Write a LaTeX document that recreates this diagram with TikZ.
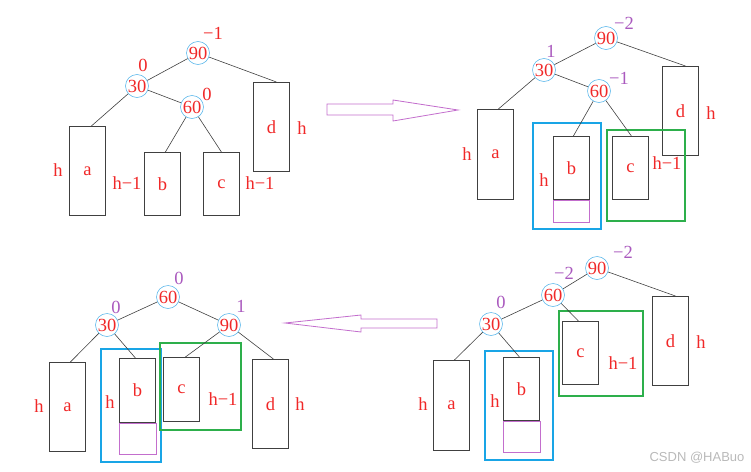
\documentclass[tikz,border=0pt]{standalone}
\usepackage{fontspec}
\setmainfont{Liberation Serif}
\newfontfamily\markfont{Liberation Sans}
\usetikzlibrary{positioning, calc}
\definecolor{lblred}{RGB}{240,40,40}
\definecolor{bfpurple}{RGB}{170,90,190}
\definecolor{ringblue}{RGB}{95,185,235}
\definecolor{hlblue}{RGB}{25,165,230}
\definecolor{hlgreen}{RGB}{45,175,75}
\definecolor{arrowpurple}{RGB}{195,110,205}
\tikzset{
  key/.style={circle, draw=ringblue, line width=0.6pt, inner sep=0pt, minimum size=23pt, text=lblred},
  sub/.style={draw=black!75, line width=0.8pt, minimum width=36pt, anchor=north west, text=lblred},
  lbl/.style={text=lblred, inner sep=0pt},
  bf/.style={text=bfpurple, inner sep=0pt},
  ghost/.style={draw=arrowpurple, line width=0.6pt},
  hlb/.style={draw=hlblue, line width=1.8pt},
  hlg/.style={draw=hlgreen, line width=1.8pt},
  link/.style={draw=black!75, line width=0.6pt},
  bigarrow/.style={draw=arrowpurple, line width=0.8pt}
}

\begin{document}
\begin{tikzpicture}[x=1pt, y=-1pt, font=\fontsize{18.5}{18.5}\selectfont]
  \useasboundingbox (0,0) rectangle (751,471);

  % top left: before insertion
  \node[key] (K90A) at (198,53) {90};
  \node[key] (K30A) at (137,86) {30};
  \node[key] (K60A) at (192,107) {60};
  \node[bf, text=lblred] at (213,33) {−1};
  \node[bf, text=lblred] at (143,65) {0};
  \node[bf, text=lblred] at (207,94) {0};
  \node[sub, minimum height=89pt] (SaA) at (69,126) {a};
  \node[sub, minimum height=63pt] (SbA) at (144,152) {b};
  \node[sub, minimum height=63pt] (ScA) at (203,152) {c};
  \node[sub, minimum height=89pt] (SdA) at (253,82) {d};
  \node[lbl] at (58,170) {h};
  \node[lbl] at (127,183) {h−1};
  \node[lbl] at (260,183) {h−1};
  \node[lbl] at (302,128) {h};
  \draw[link] (K90A) -- (K30A);
  \draw[link] (K90A) -- ($(SdA.north)+(5,0)$);
  \draw[link] (K30A) -- ($(SaA.north)+(4,0)$);
  \draw[link] (K30A) -- (K60A);
  \draw[link] (K60A) -- ($(SbA.north)+(3,0)$);
  \draw[link] (K60A) -- (ScA.north);

  % top right: after insertion into b
  \node[key] (K90B) at (606,38) {90};
  \node[key] (K30B) at (544,70) {30};
  \node[key] (K60B) at (599,91) {60};
  \node[bf] at (624,23) {−2};
  \node[bf] at (551,51) {1};
  \node[bf] at (619,78) {−1};
  \node[sub, minimum height=90pt] (SaB) at (477,109) {a};
  \node[sub, minimum height=63pt] (SbB) at (553,136) {b};
  \node[sub, minimum height=63pt] (ScB) at (612,136) {c};
  \node[sub, minimum height=89pt] (SdB) at (662,66) {d};
  \draw[ghost] (SbB.south west) rectangle ++(36,22);
  \draw[hlb] (533,123) rectangle (601,229);
  \draw[hlg] (607,130) rectangle (685,221);
  \node[lbl] at (467,154) {h};
  \node[lbl] at (544,180) {h};
  \node[lbl] at (667,163) {h−1};
  \node[lbl] at (711,113) {h};
  \draw[link] (K90B) -- ($(SdB.north)+(5,0)$);
  \draw[link] (K90B) -- (K30B);
  \draw[link] (K30B) -- ($(SaB.north)+(3,0)$);
  \draw[link] (K30B) -- (K60B);
  \draw[link] (K60B) -- ($(SbB.north)+(2,0)$);
  \draw[link] (K60B) -- ($(ScB.north)+(1,0)$);

  % bottom right: after left rotation at 30
  \node[key] (K90D) at (597,268) {90};
  \node[key] (K60D) at (553,295) {60};
  \node[key] (K30D) at (491,324) {30};
  \node[bf] at (623,252) {−2};
  \node[bf] at (564,273) {−2};
  \node[bf] at (501,302) {0};
  \node[sub, minimum height=90pt] (SaD) at (433,360) {a};
  \node[sub, minimum height=63pt] (SbD) at (503,357) {b};
  \node[sub, minimum height=63pt] (ScD) at (562,321) {c};
  \node[sub, minimum height=89pt] (SdD) at (652,296) {d};
  \draw[ghost] (SbD.south west) rectangle ++(37,31);
  \draw[hlb] (485,351) rectangle (553,460);
  \draw[hlg] (559,311) rectangle (643,396);
  \node[lbl] at (423,404) {h};
  \node[lbl] at (495,401) {h};
  \node[lbl] at (623,363) {h−1};
  \node[lbl] at (701,342) {h};
  \draw[link] (K90D) -- (K60D);
  \draw[link] (K90D) -- ($(SdD.north)+(5,0)$);
  \draw[link] (K60D) -- (K30D);
  \draw[link] (K60D) -- ($(ScD.north)+(-2,0)$);
  \draw[link] (K30D) -- ($(SaD.north)+(3,0)$);
  \draw[link] (K30D) -- ($(SbD.north)+(-2,0)$);

  % bottom left: after right rotation at 90
  \node[key] (K60C) at (168,297) {60};
  \node[key] (K30C) at (107,325) {30};
  \node[key] (K90C) at (229,325) {90};
  \node[bf] at (179,278) {0};
  \node[bf] at (116,307) {0};
  \node[bf] at (241,306) {1};
  \node[sub, minimum height=89pt] (SaC) at (49,362) {a};
  \node[sub, minimum height=64pt] (SbC) at (119,358) {b};
  \node[sub, minimum height=64pt] (ScC) at (163,357) {c};
  \node[sub, minimum height=89pt] (SdC) at (252,359) {d};
  \draw[ghost] (SbC.south west) rectangle ++(37,31);
  \draw[hlb] (101,349) rectangle (161,462);
  \draw[hlg] (160,343) rectangle (241,430);
  \node[lbl] at (39,406) {h};
  \node[lbl] at (110,402) {h};
  \node[lbl] at (223,399) {h−1};
  \node[lbl] at (300,404) {h};
  \draw[link] (K60C) -- (K30C);
  \draw[link] (K60C) -- (K90C);
  \draw[link] (K30C) -- ($(SaC.north)+(3,0)$);
  \draw[link] (K30C) -- ($(SbC.north)+(-2,0)$);
  \draw[link] (K90C) -- ($(ScC.north)+(4,0)$);
  \draw[link] (K90C) -- ($(SdC.north)+(3,0)$);

  % big hollow arrows
  \draw[bigarrow] (327,104) -- (393,104) -- (393,100) -- (458,110)
    -- (393,121) -- (393,115) -- (327,115) -- cycle;
  \draw[bigarrow] (437,319) -- (361,319) -- (361,315) -- (285,323)
    -- (361,332) -- (361,328) -- (437,328) -- cycle;

  \node[text=gray!55, font=\markfont\fontsize{13}{13}\selectfont] (Mark) at (697,458) {CSDN @HABuo};
\end{tikzpicture}
\end{document}
